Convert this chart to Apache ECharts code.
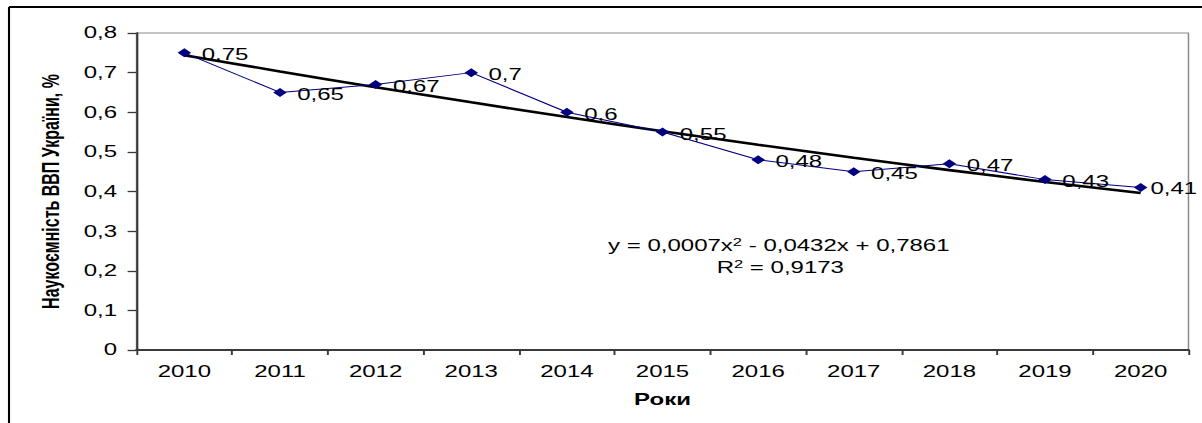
<!DOCTYPE html>
<html>
<head>
<meta charset="utf-8">
<script src="https://cdn.jsdelivr.net/npm/echarts@6/dist/echarts.min.js"></script>
<style>
  html, body { margin: 0; padding: 0; background: #fff; }
  #wrap { width: 1202px; height: 423px; overflow: hidden; }
  /* the source picture is stretched horizontally, so draw narrow and scale */
  #chart { width: 801px; height: 423px; transform: scaleX(1.5006); transform-origin: 0 0; }
</style>
</head>
<body>
<div id="wrap"><div id="chart"></div></div>
<script>
var years = ['2010', '2011', '2012', '2013', '2014', '2015', '2016', '2017', '2018', '2019', '2020'];
var share = [0.75, 0.65, 0.67, 0.7, 0.6, 0.55, 0.48, 0.45, 0.47, 0.43, 0.41];
// polynomial trendline
var trend = [0.744, 0.703, 0.663, 0.625, 0.588, 0.552, 0.518, 0.485, 0.454, 0.424, 0.396];
var yTicks = [0, 0.1, 0.2, 0.3, 0.4, 0.5, 0.6, 0.7, 0.8];

var font = "'Liberation Sans', Arial, sans-serif";
var comma = function (v) { return String(v).replace('.', ','); };

// last label sits right at the edge, pull it in a little
var shareData = share.map(function (v, i) {
    if (i === share.length - 1) return { value: v, label: { offset: [-3, 1] } };
    return v;
});

var chart = echarts.init(document.getElementById('chart'), null, { renderer: 'svg' });
var option = {
    animation: false,
    backgroundColor: '#fff',
    grid: {
        left: 91, right: 9, top: 33, bottom: 73,
        show: true, borderColor: '#8a8a8a', borderWidth: 1
    },
    xAxis: {
        type: 'category',
        data: years,
        boundaryGap: true,
        name: 'Роки',
        nameLocation: 'middle',
        nameGap: 42,
        nameTextStyle: { fontFamily: font, fontSize: 16, fontWeight: 'bold', color: '#000' },
        axisLine: { lineStyle: { color: '#3a3a3a', width: 2 } },
        axisTick: { show: true, length: 5, lineStyle: { color: '#3a3a3a', width: 1.3 } },
        axisLabel: { fontFamily: font, fontSize: 16, color: '#000', margin: 14 }
    },
    yAxis: {
        type: 'value',
        min: yTicks[0],
        max: yTicks[yTicks.length - 1],
        interval: 0.1,
        name: 'Наукоємність ВВП України, %',
        nameLocation: 'middle',
        nameGap: 49,
        nameTextStyle: {
            fontFamily: "'Liberation Sans Narrow', 'Arial Narrow', " + font,
            fontSize: 16, fontWeight: 'bold', color: '#000'
        },
        splitLine: { show: false },
        axisLine: { show: true, lineStyle: { color: '#3a3a3a', width: 1.4 } },
        axisTick: { show: true, length: 6, lineStyle: { color: '#3a3a3a', width: 1.3 } },
        axisLabel: {
            fontFamily: font, fontSize: 16, color: '#000', margin: 13,
            formatter: function (v) { return comma(+v.toFixed(1)); }
        }
    },
    series: [
        {
            name: 'trend',
            type: 'line',
            data: trend,
            smooth: 0.2,
            symbol: 'none',
            lineStyle: { color: '#000', width: 2.6 },
            z: 2
        },
        {
            name: 'share',
            type: 'line',
            data: shareData,
            symbol: 'diamond',
            symbolSize: 9,
            itemStyle: { color: '#000080' },
            lineStyle: { color: '#000080', width: 1 },
            label: {
                show: true,
                position: 'right',
                offset: [2, 2],
                fontFamily: font,
                fontSize: 16,
                color: '#000',
                formatter: function (p) { return comma(p.value); }
            },
            z: 3
        }
    ],
    graphic: [
        // outer frame (top and left edges only are visible)
        { type: 'line', shape: { x1: 6, y1: 7, x2: 801, y2: 7 }, style: { stroke: '#000', lineWidth: 2 } },
        { type: 'line', shape: { x1: 6, y1: 7, x2: 6, y2: 423 }, style: { stroke: '#000', lineWidth: 1.4 } },
        {
            type: 'text', x: 519, y: 245, z: 10,
            style: {
                text: '{n|y = 0,0007x}{s|2}{n| - 0,0432x + 0,7861}',
                align: 'center', verticalAlign: 'middle', fill: '#000',
                rich: {
                    n: { fontFamily: font, fontSize: 16, fill: '#000', verticalAlign: 'bottom' },
                    s: { fontFamily: font, fontSize: 11, fill: '#000', verticalAlign: 'top', padding: [0, 0, 6, 0] }
                }
            }
        },
        {
            type: 'text', x: 520, y: 267, z: 10,
            style: {
                text: '{n|R}{s|2}{n| = 0,9173}',
                align: 'center', verticalAlign: 'middle', fill: '#000',
                rich: {
                    n: { fontFamily: font, fontSize: 16, fill: '#000', verticalAlign: 'bottom' },
                    s: { fontFamily: font, fontSize: 11, fill: '#000', verticalAlign: 'top', padding: [0, 0, 6, 0] }
                }
            }
        }
    ]
};
chart.setOption(option);
</script>
</body>
</html>
